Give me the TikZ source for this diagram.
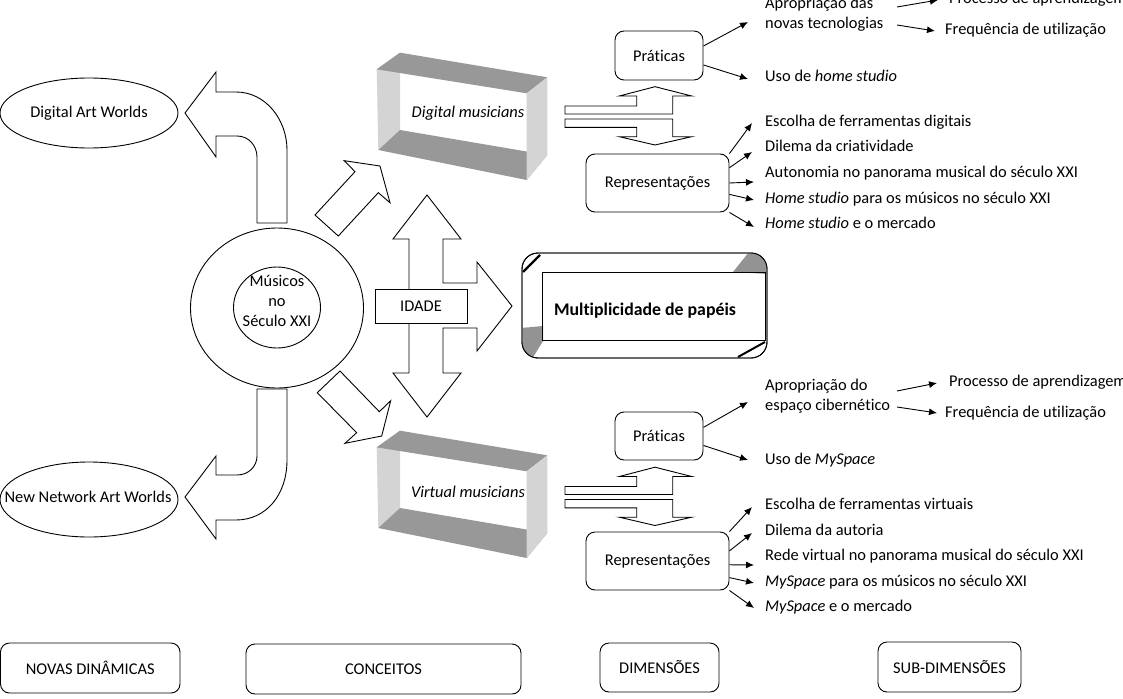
\documentclass[tikz,border=0pt]{standalone}
\usepackage{fontspec}
\setmainfont{Carlito}[Ligatures={NoCommon}]
\usetikzlibrary{arrows.meta,shapes.geometric}
\definecolor{lightface}{RGB}{212,212,212}
\definecolor{darkface}{RGB}{152,152,152}
\begin{document}
\begin{tikzpicture}[x=1pt,y=-1pt,
  every node/.style={font=\fontsize{16.4}{20}\selectfont},
  blk/.style={draw=black, line width=0.9pt, fill=white, line join=miter},
  ellbox/.style={ellipse, draw, line width=0.9pt, fill=white, inner sep=0pt},
  rbox/.style={draw, rounded corners=9pt, line width=0.9pt, fill=white, inner sep=0pt},
  txt/.style={anchor=west, inner sep=0pt, text height=11pt, text depth=3pt},
  con/.style={line width=0.9pt, -{Latex[length=8pt,width=7pt]}},
]
\clip (0,0) rectangle (1123,698);
\fill[white] (0,0) rectangle (1123,698);

% ---- curved arrows (new dynamics)
\draw[blk] (185,113) -- (216,72) -- (216,92) -- (236,92) .. controls (266,92) and (287,120) .. (287,150) -- (287,223) -- (257,223) -- (257,157) .. controls (257,146) and (249,136) .. (237,136) -- (216,136) -- (216,157) -- cycle;
\draw[blk] (287,389) -- (287,460) .. controls (287,495) and (266,520) .. (236,520) -- (216,520) -- (216,539) -- (185,497) -- (216,456) -- (216,475) -- (237,475) .. controls (249,475) and (257,466) .. (257,456) -- (257,389) -- cycle;

\node[ellbox, minimum width=178, minimum height=70] (daw) at (89,113) {};
\node (dawt) at (89,113) {Digital Art Worlds};
\node[ellbox, minimum width=178, minimum height=75] (nnaw) at (89,499.5) {};
\node (nnawt) at (88,497) {New Network Art Worlds};

% ---- central circle
\node[ellbox, minimum width=173, minimum height=160] (outer) at (277,308) {};
\node[ellbox, minimum width=87, minimum height=81] (inner) at (277,307.5) {};
\node[align=center, inner sep=0pt] (innert) at (277,301) {Músicos\\no\\Século XXI};

% ---- diagonal arrows
\draw[blk] (315,215) -- (355,171.7) -- (344.3,160.7) -- (380,166) -- (390,202.7) -- (378.3,192.7) -- (338.3,236) -- cycle;
\draw[blk] (340,371) -- (379.3,411.7) -- (390.7,400.7) -- (381.7,436) -- (345,443.3) -- (356.7,432.7) -- (317.3,392.7) -- cycle;

% ---- IDADE cross arrow
\draw[blk] (427,195) -- (461,239) -- (443,239) -- (443,283) -- (477,283) -- (477,262) -- (512,306) -- (477,351) -- (477,328) -- (443,328) -- (443,373) -- (461,373) -- (427,417) -- (393,373) -- (409,373) -- (409,239) -- (393,239) -- cycle;
\node[draw, line width=0.9pt, fill=white, minimum width=92, minimum height=34, inner sep=0pt] (idade) at (421,306) {IDADE};

% ---- multiplicidade bevel
\draw[line width=0.9pt, fill=white, rounded corners=16pt] (522,253) rectangle (767,358);
\begin{scope}
  \clip[rounded corners=16pt] (522,253) rectangle (767,358);
  \fill[gray!85] (733,272) -- (749,252) -- (768,252) -- (768,274) -- cycle;
  \fill[gray!85] (521,328) -- (543,326) -- (543,341) -- (532,359) -- (521,359) -- cycle;
\end{scope}
\draw[line width=0.9pt] (542,272) rectangle (765,340);
\draw[line width=2.2pt] (523,272) -- (540,255);
\draw[line width=2pt] (738,357) -- (765,342);
\draw[line width=0.9pt, rounded corners=16pt] (522,253) rectangle (767,358);
\node[font=\fontsize{17.8}{20}\selectfont\bfseries] (mult) at (645,311) {Multiplicidade de papéis};

% ---- 3D frames
\foreach \dy in {0,378}{
\begin{scope}[shift={(0,\dy)}]
  \fill[lightface] (376.7,69.3) -- (400,52.7) -- (400,130) -- (378.3,150) -- cycle;
  \fill[darkface] (376.7,69.3) -- (526.7,93.3) -- (547.3,77.3) -- (400,52.7) -- cycle;
  \fill[darkface] (378.3,150) -- (526.7,180) -- (547.3,155) -- (400,130) -- cycle;
  \fill[lightface] (526.7,93.3) -- (547.3,77.3) -- (547.3,155) -- (526.7,180) -- cycle;
\end{scope}
}
\node[font=\fontsize{16.4}{20}\selectfont\itshape] (dmus) at (468,113) {Digital musicians};
\node[font=\fontsize{16.4}{20}\selectfont\itshape] (vmus) at (468,492) {Virtual musicians};

% ---- split arrows
\foreach \dy in {0,380.5}{
\begin{scope}[shift={(0,\dy)}]
  \draw[blk] (565,106) -- (636.7,106) -- (636.7,96) -- (619.3,96) -- (655,86.7) -- (691.7,96) -- (672.7,96) -- (672.7,114) -- (565,114) -- cycle;
  \draw[blk] (565,119) -- (672.7,119) -- (672.7,136.7) -- (691.7,136.7) -- (655,145) -- (619.3,136.7) -- (636.7,136.7) -- (636.7,127.3) -- (565,127.3) -- cycle;
\end{scope}
}

% ---- dimension boxes
\node[rbox, minimum width=88, minimum height=49] (prat1) at (659,55.5) {Práticas};
\node[rbox, minimum width=143, minimum height=58] (rep1) at (657.5,183) {Representações};
\node[rbox, minimum width=88, minimum height=48] (prat2) at (659,436) {Práticas};
\node[rbox, minimum width=143, minimum height=58] (rep2) at (657.5,561) {Representações};

% ---- sub-dimension texts (top)
\node[txt] (ap1) at (765,5) {Apropriação das};
\node[txt] (nt1) at (765,25) {novas tecnologias};
\node[txt] (pr1) at (949,0) {Processo de aprendizagem};
\node[txt] (fr1) at (945,31) {Frequência de utilização};
\node[txt] (us1) at (765,78) {Uso de \textit{home studio}};
\node[txt] (es1) at (765,122) {Escolha de ferramentas digitais};
\node[txt] (di1) at (765,147) {Dilema da criatividade};
\node[txt] (au1) at (765,173) {Autonomia no panorama musical do século XXI};
\node[txt] (hs1) at (765,199) {\textit{Home studio} para os músicos no século XXI};
\node[txt] (hm1) at (765,224) {\textit{Home studio} e o mercado};

% ---- sub-dimension texts (bottom)
\node[txt] (ap2) at (765,386) {Apropriação do};
\node[txt] (ec2) at (765,406) {espaço cibernético};
\node[txt] (pr2) at (949,382) {Processo de aprendizagem};
\node[txt] (fr2) at (945,413) {Frequência de utilização};
\node[txt] (us2) at (765,460) {Uso de \textit{MySpace}};
\node[txt] (es2) at (765,505) {Escolha de ferramentas virtuais};
\node[txt] (di2) at (765,531) {Dilema da autoria};
\node[txt] (re2) at (765,556) {Rede virtual no panorama musical do século XXI};
\node[txt] (ms2) at (765,582) {\textit{MySpace} para os músicos no século XXI};
\node[txt] (mm2) at (765,607) {\textit{MySpace} e o mercado};

% ---- arrow end coordinates
\coordinate (e1a) at (748,22);
\coordinate (e1b) at (748,79);
\coordinate (e1c) at (752,123);
\coordinate (e1d) at (752,152);
\coordinate (e1e) at (754,182);
\coordinate (e1f) at (754,200);
\coordinate (e1g) at (754,227);
\coordinate (s1h) at (897,7);
\coordinate (e1h) at (938,0);
\coordinate (s1i) at (897,25);
\coordinate (e1i) at (935,31);

\coordinate (e2a) at (748,402);
\coordinate (e2b) at (748,460);
\coordinate (e2c) at (752,507);
\coordinate (e2d) at (752,533);
\coordinate (e2e) at (754,565);
\coordinate (e2f) at (754,583);
\coordinate (e2g) at (754,608);
\coordinate (s2h) at (897,391);
\coordinate (e2h) at (937,383);
\coordinate (s2i) at (897,407);
\coordinate (e2i) at (937,413);

% ---- connectors top
\draw[con] (prat1.12) -- (e1a);
\draw[con] (prat1.-12) -- (e1b);
\draw[con] (rep1.north east) -- (e1c);
\draw[con] (rep1.12.6) -- (e1d);
\draw[con] (rep1.east) -- (e1e);
\draw[con] (rep1.-9.5) -- (e1f);
\draw[con] (rep1.south east) -- (e1g);
\draw[con] (s1h) -- (e1h);
\draw[con] (s1i) -- (e1i);

% ---- connectors bottom
\draw[con] (prat2.11.6) -- (e2a);
\draw[con] (prat2.-12.8) -- (e2b);
\draw[con] (rep2.north east) -- (e2c);
\draw[con] (rep2.8.7) -- (e2d);
\draw[con] (rep2.-3) -- (e2e);
\draw[con] (rep2.-13.4) -- (e2f);
\draw[con] (rep2.south east) -- (e2g);
\draw[con] (s2h) -- (e2h);
\draw[con] (s2i) -- (e2i);

% ---- legend boxes
\node[rbox, minimum width=179.5, minimum height=50] (nd) at (90.25,668) {NOVAS DINÂMICAS};
\node[rbox, minimum width=275, minimum height=50] (cc) at (383.5,669) {CONCEITOS};
\node[rbox, minimum width=119, minimum height=49] (dim) at (659.5,667.5) {DIMENSÕES};
\node[rbox, minimum width=143, minimum height=50] (sd) at (949.5,667) {SUB-DIMENSÕES};
\end{tikzpicture}
\end{document}
